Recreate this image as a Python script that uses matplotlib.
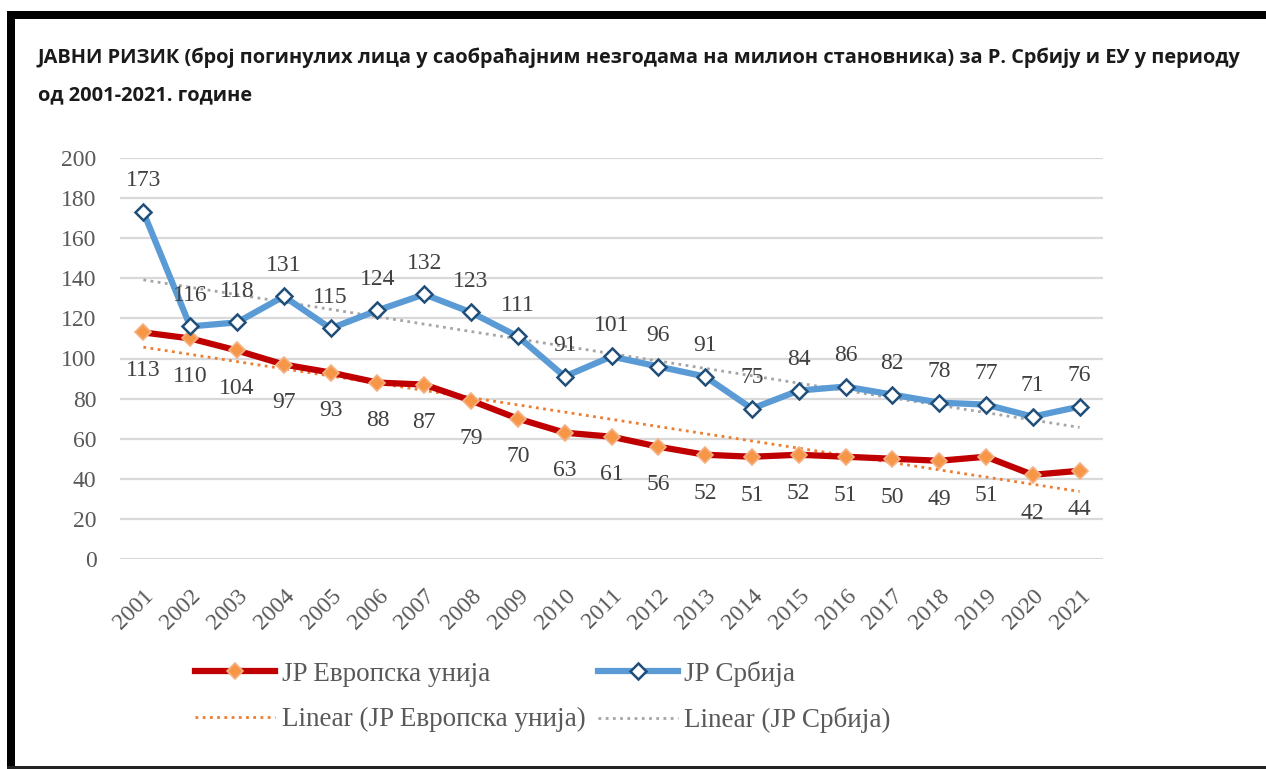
import matplotlib
matplotlib.use("Agg")
import matplotlib.pyplot as plt
from matplotlib.patches import Rectangle
from matplotlib.lines import Line2D
import numpy as np

years = [str(y) for y in range(2001, 2022)]
serbia = [173, 116, 118, 131, 115, 124, 132, 123, 111, 91, 101, 96, 91, 75, 84, 86, 82, 78, 77, 71, 76]
eu = [113, 110, 104, 97, 93, 88, 87, 79, 70, 63, 61, 56, 52, 51, 52, 51, 50, 49, 51, 42, 44]
yticks = [0, 20, 40, 60, 80, 100, 120, 140, 160, 180, 200]
title_lines = ["ЈАВНИ РИЗИК (број погинулих лица у саобраћајним незгодама на милион становника) за Р. Србију и ЕУ у периоду",
               "од 2001-2021. године"]
lab_eu = "JP Европска унија"
lab_rs = "JP Србија"
lab_lin_eu = "Linear (JP Европска унија)"
lab_lin_rs = "Linear (JP Србија)"

SERIF = ["Liberation Serif", "DejaVu Serif"]
TFONT = ["Open Sans", "DejaVu Sans"]
W, H = 1266, 769
fig = plt.figure(figsize=(W / 100, H / 100), dpi=100)
fig.patch.set_facecolor("white")

def fx(px):
    return px / W

def fy(py):
    return 1 - py / H

ax = fig.add_axes([fx(120), fy(559), fx(1103) - fx(120), fy(158) - fy(559)])
x = np.arange(len(years))

# trend lines (least squares from data)
c_rs = np.polyfit(x, serbia, 1)
c_eu = np.polyfit(x, eu, 1)
ax.plot(x, np.polyval(c_eu, x), color="#ED7D31", lw=2, ls=(0, (1, 1.6)), zorder=2)
ax.plot(x, np.polyval(c_rs, x), color="#A5A5A5", lw=2, ls=(0, (1, 1.6)), zorder=2)

ax.plot(x, eu, color="#C00000", lw=4.5, marker="D", ms=8.5, mfc="#F79646",
        mec="#F4B183", mew=1.2, zorder=4)
ax.plot(x, serbia, color="#5B9BD5", lw=4.5, marker="D", ms=8.5, mfc="white",
        mec="#1F4E79", mew=1.8, zorder=4)

FS = 17
for xi, v in zip(x, serbia):
    ax.annotate(str(v), (xi, v), xytext=(0, 15), textcoords="offset points",
                ha="center", va="bottom", fontsize=FS, family=SERIF, color="#404040", zorder=5)
for xi, v in zip(x, eu):
    ax.annotate(str(v), (xi, v), xytext=(0, -20), textcoords="offset points",
                ha="center", va="top", fontsize=FS, family=SERIF, color="#404040", zorder=5)

ax.set_xlim(-0.5, len(years) - 0.5)
ax.set_ylim(0, 200)
ax.set_yticks(yticks)
ax.set_yticklabels([str(t) for t in yticks], family=SERIF, fontsize=FS, color="#595959")
ax.set_xticks(x)
ax.set_xticklabels(years, rotation=45, ha="right", rotation_mode="anchor",
                   family=SERIF, fontsize=FS, color="#595959")
ax.tick_params(axis="both", length=0)
ax.tick_params(axis="y", pad=17)
ax.tick_params(axis="x", pad=19)
for s in ax.spines.values():
    s.set_visible(False)
ax.grid(axis="y", color="#D9D9D9", lw=1.6)
ax.set_axisbelow(True)

# title: fit first line to the target width
renderer = fig.canvas.get_renderer()
t1 = fig.text(fx(38), fy(58), title_lines[0], ha="left", va="center", fontsize=13,
              fontweight="bold", family=TFONT, color="#1a1a1a")
w = t1.get_window_extent(renderer).width
tfs = 13 * (1248 - 38) / w * 0.99
t1.set_fontsize(tfs)
fig.text(fx(38), fy(95), title_lines[1], ha="left", va="center", fontsize=tfs,
         fontweight="bold", family=TFONT, color="#1a1a1a")

handles = [
    Line2D([], [], color="#C00000", lw=4.5, marker="D", ms=8.5, mfc="#F79646", mec="#F4B183", mew=1.2),
    Line2D([], [], color="#ED7D31", lw=2, ls=(0, (1, 1.6))),
    Line2D([], [], color="#5B9BD5", lw=4.5, marker="D", ms=8.5, mfc="white", mec="#1F4E79", mew=1.8),
    Line2D([], [], color="#A5A5A5", lw=2, ls=(0, (1, 1.6))),
]
labels = [lab_eu, lab_lin_eu, lab_rs, lab_lin_rs]
LFS = 19.5
leg = fig.legend(handles, labels, ncol=2, loc="center", bbox_to_anchor=(fx(543), fy(697)),
                 frameon=False, prop={"family": SERIF, "size": LFS}, handlelength=2.95,
                 handletextpad=0.25, columnspacing=0.45, labelspacing=0.75, borderpad=0)
for t in leg.get_texts():
    t.set_color("#595959")

# black frame
fig.add_artist(Rectangle((fx(7), 0), fx(8), fy(11), transform=fig.transFigure,
                         facecolor="black", edgecolor="none"))
fig.add_artist(Rectangle((fx(7), fy(19)), 1 - fx(7), fy(11) - fy(19), transform=fig.transFigure,
                         facecolor="black", edgecolor="none"))
fig.add_artist(Rectangle((fx(7), 0), 1 - fx(7), fy(766), transform=fig.transFigure,
                         facecolor="#222222", edgecolor="none"))

fig.savefig("out.png", dpi=100, facecolor="white")
